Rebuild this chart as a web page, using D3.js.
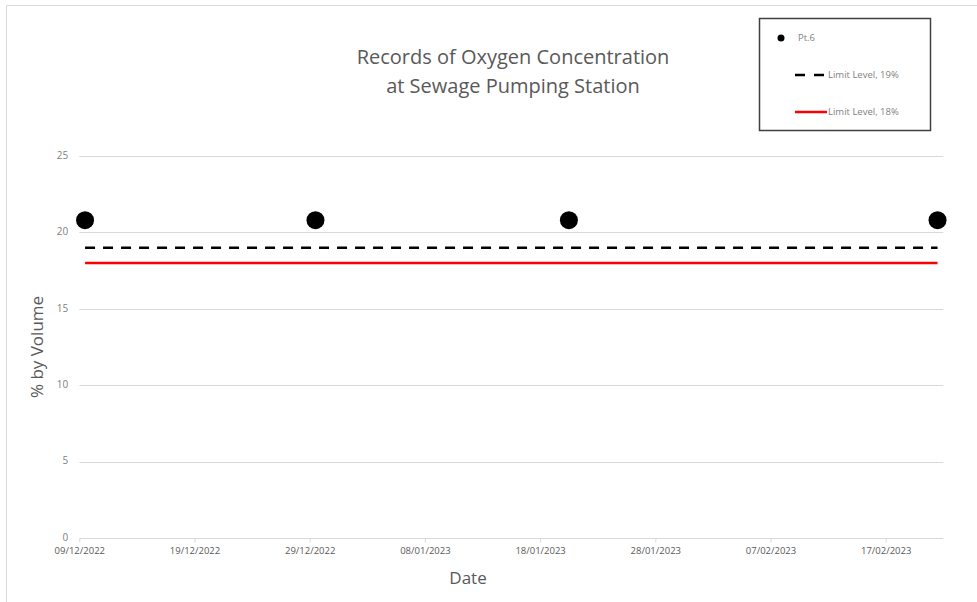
<!DOCTYPE html>
<html>
<head>
<meta charset="utf-8">
<script src="https://cdn.jsdelivr.net/npm/d3@7"></script>
<style>
  html, body { margin: 0; padding: 0; background: #fff; }
  svg { display: block; font-family: "Open Sans", "Liberation Sans", sans-serif; }
</style>
</head>
<body>
<svg id="chart" width="977" height="602"></svg>
<script>
// ---- data ----
const sampleDates = ["2022-12-09", "2022-12-29", "2023-01-20", "2023-02-21"];
const pt6Values = [20.8, 20.8, 20.8, 20.8];
const limit19 = [19, 19, 19, 19];
const limit18 = [18, 18, 18, 18];
const xTickLabels = ["09/12/2022", "19/12/2022", "29/12/2022", "08/01/2023", "18/01/2023", "28/01/2023", "07/02/2023", "17/02/2023"];
const yTicks = [0, 5, 10, 15, 20, 25];
const axisStart = "2022-12-09";
const axisEnd = "2023-02-22";
const titleLines = ["Records of Oxygen Concentration", "at Sewage Pumping Station"];
const legendLabels = ["Pt.6", "Limit Level, 19%", "Limit Level, 18%"];

// ---- layout ----
const svg = d3.select("#chart");
const FONT = '"Open Sans", "Liberation Sans", sans-serif';
const m = { left: 79.3, right: 943.3, top: 156, bottom: 538 };
const parse = d3.utcParse("%Y-%m-%d");
const parseTick = d3.utcParse("%d/%m/%Y");
const dayCenter = d => d3.utcHour.offset(parse(d), 12);

const x = d3.scaleUtc().domain([parse(axisStart), parse(axisEnd)]).range([m.left, m.right]);
const y = d3.scaleLinear().domain([0, 25]).range([m.bottom, m.top]);

const grey = "#595959";

// outer chart border (left + top)
svg.append("path").attr("d", "M6.5,602 V5.5 H977").attr("fill", "none").attr("stroke", "#d9d9d9").attr("stroke-width", 1);

// gridlines
svg.append("g").selectAll("line").data(yTicks.filter(v => v > 0)).join("line")
  .attr("x1", m.left).attr("x2", m.right)
  .attr("y1", d => Math.round(y(d)) + 0.5).attr("y2", d => Math.round(y(d)) + 0.5)
  .attr("stroke", "#d9d9d9").attr("stroke-width", 1);

// y axis labels
const yAxis = d3.axisLeft(y).tickValues(yTicks).tickSize(0).tickPadding(11);
svg.append("g").attr("transform", `translate(${m.left},-1)`).call(yAxis)
  .attr("font-family", FONT)
  .call(g => g.select(".domain").remove())
  .call(g => g.selectAll("text").attr("fill", "#7f7f7f").attr("font-size", 10));

// x axis
const xAxis = d3.axisBottom(x).tickValues(xTickLabels.map(t => parseTick(t)))
  .tickFormat(d3.utcFormat("%d/%m/%Y")).tickSize(4).tickPadding(5);
svg.append("g").attr("transform", `translate(0,${Math.round(m.bottom) + 0.5})`).call(xAxis)
  .attr("font-family", FONT)
  .call(g => g.select(".domain").attr("stroke", "#d9d9d9").attr("d", `M${m.left},0H${m.right}`))
  .call(g => g.selectAll(".tick line").attr("stroke", "#d9d9d9"))
  .call(g => g.selectAll("text").attr("fill", grey).attr("font-size", 9.5));

// limit lines
const line = d3.line().x(d => x(dayCenter(d[0]))).y(d => y(d[1]));
svg.append("path").datum(d3.zip(sampleDates, limit18)).attr("d", line)
  .attr("fill", "none").attr("stroke", "#ff0000").attr("stroke-width", 2.5);
svg.append("path").datum(d3.zip(sampleDates, limit19)).attr("d", line)
  .attr("fill", "none").attr("stroke", "#000").attr("stroke-width", 2.5)
  .attr("stroke-dasharray", "10,8");

// points
svg.append("g").selectAll("circle").data(d3.zip(sampleDates, pt6Values)).join("circle")
  .attr("cx", d => x(dayCenter(d[0]))).attr("cy", d => y(d[1])).attr("r", 9).attr("fill", "#000");

// title
svg.append("text").attr("x", 513).attr("y", 64).attr("text-anchor", "middle")
  .attr("font-size", 20).attr("fill", grey)
  .selectAll("tspan").data(titleLines).join("tspan")
  .attr("x", 513).attr("dy", (d, i) => i === 0 ? 0 : 29).text(d => d);

// axis titles
svg.append("text").attr("transform", "translate(43,347) rotate(-90)").attr("text-anchor", "middle")
  .attr("font-size", 17).attr("fill", grey).text("% by Volume");
svg.append("text").attr("x", 468).attr("y", 584).attr("text-anchor", "middle")
  .attr("font-size", 17).attr("fill", grey).text("Date");

// legend
const lg = svg.append("g");
lg.append("rect").attr("x", 759.5).attr("y", 18.5).attr("width", 171).attr("height", 112)
  .attr("fill", "#fff").attr("stroke", "#404040").attr("stroke-width", 1.5);
lg.append("circle").attr("cx", 781).attr("cy", 38).attr("r", 3.5).attr("fill", "#000");
lg.append("line").attr("x1", 795).attr("x2", 827).attr("y1", 75).attr("y2", 75)
  .attr("stroke", "#000").attr("stroke-width", 2.5).attr("stroke-dasharray", "10,9");
lg.append("line").attr("x1", 795).attr("x2", 827).attr("y1", 112).attr("y2", 112)
  .attr("stroke", "#ff0000").attr("stroke-width", 2.5);
lg.selectAll("text.lbl").data(legendLabels).join("text").attr("class", "lbl")
  .attr("x", (d, i) => i === 0 ? 798 : 828).attr("y", (d, i) => [41, 78, 115][i])
  .attr("font-size", 9.5).attr("fill", "#7f7f7f").text(d => d);
</script>
</body>
</html>
